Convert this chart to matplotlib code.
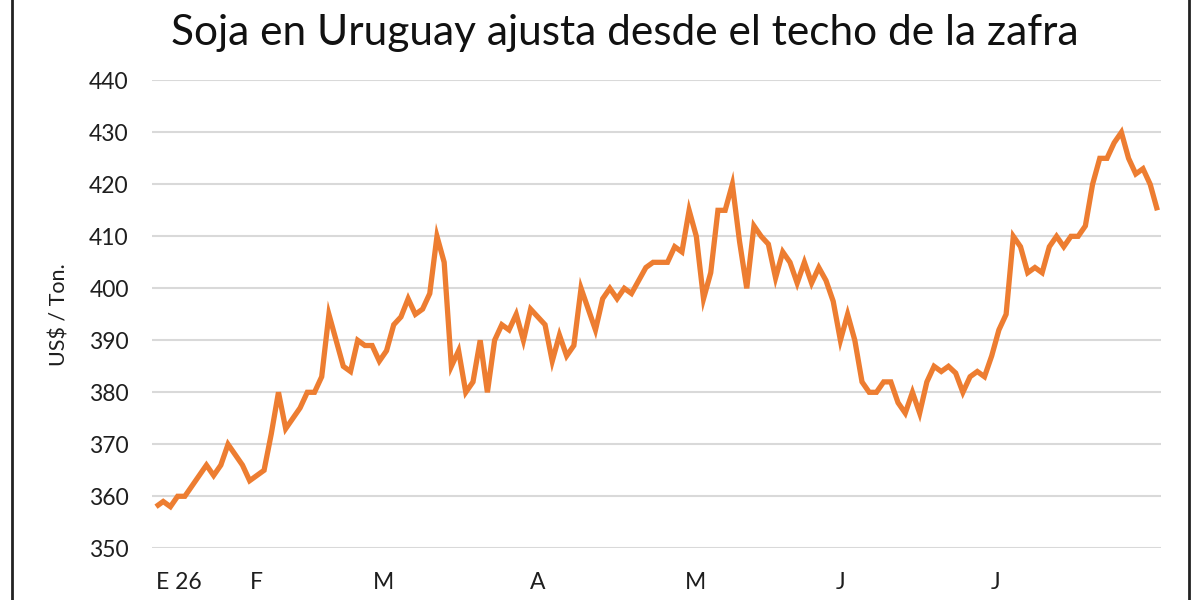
import matplotlib
matplotlib.use("Agg")
import matplotlib.pyplot as plt
import numpy as np
from matplotlib.patches import Rectangle

# daily soybean price, US$/ton, Jan-Jul 2026
prices = [
    358, 359, 358, 360, 360, 362, 364, 366, 364, 366,
    370, 368, 366, 363, 364, 365, 372, 380, 373, 375,
    377, 380, 380, 383, 395, 390, 385, 384, 390, 389,
    389, 386, 388, 393, 394.5, 398, 395, 396, 399, 410,
    405, 385, 388, 380, 382, 390, 380, 390, 393, 392,
    395, 390, 396, 394.5, 393, 386, 391, 387, 389, 400,
    396, 392, 398, 400, 398, 400, 399, 401.5, 404, 405,
    405, 405, 408, 407, 415, 410, 398, 403, 415, 415,
    420, 409, 400, 412, 410, 408.5, 402, 407, 405, 401,
    405, 401, 404, 401.5, 397.5, 390, 395, 390, 382, 380,
    380, 382, 382, 378, 376, 380, 376, 382, 385, 384,
    385, 383.7, 380, 383, 384, 383, 387, 392, 395, 410,
    408, 403, 404, 403, 408, 410, 408, 410, 410, 412,
    420, 425, 425, 428, 430, 425, 422, 423, 420, 415,
]
month_labels = ["E 26", "F", "M", "A", "M", "J", "J"]
month_pos = [3.2, 14, 31.6, 53, 74.9, 95, 116.5]

ORANGE = "#ED7D31"
GRID = "#D9D9D9"
TEXT = "#1e1e1e"
FONT = ["Lato", "DejaVu Sans"]

plt.rcParams["font.family"] = FONT

fig = plt.figure(figsize=(12, 6), dpi=100)
ax = fig.add_axes([0.127, 0.0862, 0.8405, 0.7799])

x = np.arange(len(prices))
ax.plot(x, prices, color=ORANGE, lw=3.8, solid_joinstyle="miter", solid_capstyle="butt")

ax.set_xlim(-0.5, len(prices) - 0.5)
ax.set_ylim(350, 440)
ax.set_yticks(np.arange(350, 441, 10))
ax.yaxis.grid(True, color=GRID, lw=1.5)
ax.set_axisbelow(True)
for s in ax.spines.values():
    s.set_visible(False)
ax.tick_params(axis="both", length=0, labelsize=16.5, colors=TEXT)
ax.tick_params(axis="y", pad=17)
ax.tick_params(axis="x", pad=17)
ax.set_xticks(month_pos)
ax.set_xticklabels(month_labels)

ax.set_ylabel("US$ / Ton.", fontsize=15.5, color=TEXT, labelpad=14)

fig.text(0.521, 0.945, "Soja en Uruguay ajusta desde el techo de la zafra",
         ha="center", va="center", fontsize=30.5, color="#111111")

# chart frame
fig.patches.append(Rectangle((12 / 1200, -0.05), 1177 / 1200, 1.1,
                             transform=fig.transFigure, fill=False,
                             edgecolor="#222222", lw=2))

fig.savefig("out.png", dpi=100, facecolor="white")
